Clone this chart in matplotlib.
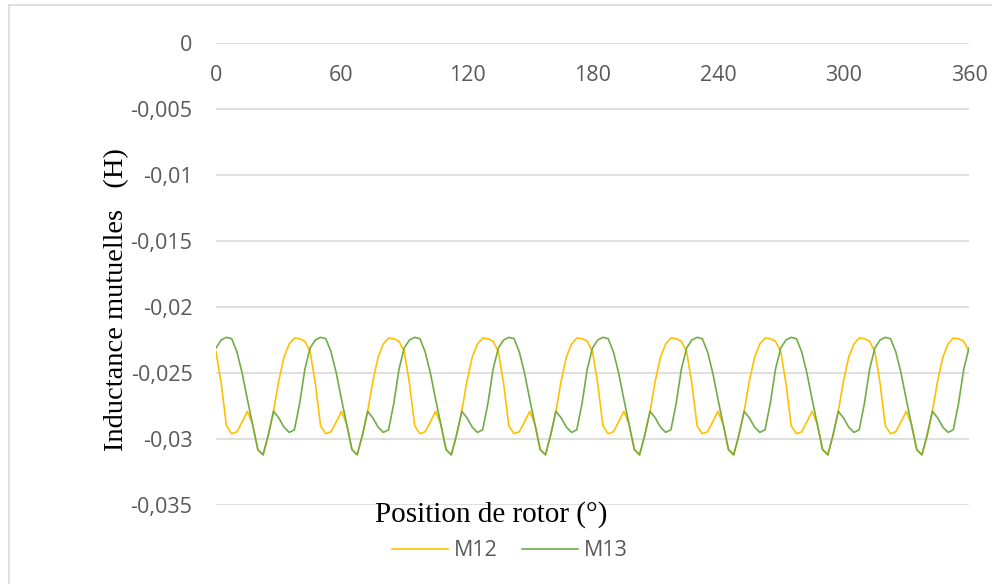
import matplotlib.pyplot as plt
from matplotlib.lines import Line2D

# rotor position (deg), 2.5 deg step
position = [i * 2.5 for i in range(145)]

# one period (45 deg) per row
m12 = [
    -0.02338, -0.0258, -0.0290, -0.0296, -0.02945, -0.0287, -0.0279, -0.0289, -0.0308,
    -0.0312, -0.0297, -0.0279, -0.0256, -0.0238, -0.0228, -0.02235, -0.0224, -0.0226,
    -0.02338, -0.0258, -0.0290, -0.0296, -0.02945, -0.0287, -0.0279, -0.0289, -0.0308,
    -0.0312, -0.0297, -0.0279, -0.0256, -0.0238, -0.0228, -0.02235, -0.0224, -0.0226,
    -0.02338, -0.0258, -0.0290, -0.0296, -0.02945, -0.0287, -0.0279, -0.0289, -0.0308,
    -0.0312, -0.0297, -0.0279, -0.0256, -0.0238, -0.0228, -0.02235, -0.0224, -0.0226,
    -0.02338, -0.0258, -0.0290, -0.0296, -0.02945, -0.0287, -0.0279, -0.0289, -0.0308,
    -0.0312, -0.0297, -0.0279, -0.0256, -0.0238, -0.0228, -0.02235, -0.0224, -0.0226,
    -0.02338, -0.0258, -0.0290, -0.0296, -0.02945, -0.0287, -0.0279, -0.0289, -0.0308,
    -0.0312, -0.0297, -0.0279, -0.0256, -0.0238, -0.0228, -0.02235, -0.0224, -0.0226,
    -0.02338, -0.0258, -0.0290, -0.0296, -0.02945, -0.0287, -0.0279, -0.0289, -0.0308,
    -0.0312, -0.0297, -0.0279, -0.0256, -0.0238, -0.0228, -0.02235, -0.0224, -0.0226,
    -0.02338, -0.0258, -0.0290, -0.0296, -0.02945, -0.0287, -0.0279, -0.0289, -0.0308,
    -0.0312, -0.0297, -0.0279, -0.0256, -0.0238, -0.0228, -0.02235, -0.0224, -0.0226,
    -0.02338, -0.0258, -0.0290, -0.0296, -0.02945, -0.0287, -0.0279, -0.0289, -0.0308,
    -0.0312, -0.0297, -0.0279, -0.0256, -0.0238, -0.0228, -0.02235, -0.0224, -0.0226,
    -0.02338,
]
m13 = [
    -0.0231, -0.0225, -0.0223, -0.0224, -0.0234, -0.0250, -0.0270, -0.0289, -0.0308,
    -0.0312, -0.0297, -0.0279, -0.0284, -0.0291, -0.0295, -0.0293, -0.0273, -0.0247,
    -0.0231, -0.0225, -0.0223, -0.0224, -0.0234, -0.0250, -0.0270, -0.0289, -0.0308,
    -0.0312, -0.0297, -0.0279, -0.0284, -0.0291, -0.0295, -0.0293, -0.0273, -0.0247,
    -0.0231, -0.0225, -0.0223, -0.0224, -0.0234, -0.0250, -0.0270, -0.0289, -0.0308,
    -0.0312, -0.0297, -0.0279, -0.0284, -0.0291, -0.0295, -0.0293, -0.0273, -0.0247,
    -0.0231, -0.0225, -0.0223, -0.0224, -0.0234, -0.0250, -0.0270, -0.0289, -0.0308,
    -0.0312, -0.0297, -0.0279, -0.0284, -0.0291, -0.0295, -0.0293, -0.0273, -0.0247,
    -0.0231, -0.0225, -0.0223, -0.0224, -0.0234, -0.0250, -0.0270, -0.0289, -0.0308,
    -0.0312, -0.0297, -0.0279, -0.0284, -0.0291, -0.0295, -0.0293, -0.0273, -0.0247,
    -0.0231, -0.0225, -0.0223, -0.0224, -0.0234, -0.0250, -0.0270, -0.0289, -0.0308,
    -0.0312, -0.0297, -0.0279, -0.0284, -0.0291, -0.0295, -0.0293, -0.0273, -0.0247,
    -0.0231, -0.0225, -0.0223, -0.0224, -0.0234, -0.0250, -0.0270, -0.0289, -0.0308,
    -0.0312, -0.0297, -0.0279, -0.0284, -0.0291, -0.0295, -0.0293, -0.0273, -0.0247,
    -0.0231, -0.0225, -0.0223, -0.0224, -0.0234, -0.0250, -0.0270, -0.0289, -0.0308,
    -0.0312, -0.0297, -0.0279, -0.0284, -0.0291, -0.0295, -0.0293, -0.0273, -0.0247,
    -0.0231,
]

x_ticks = [0, 60, 120, 180, 240, 300, 360]
y_ticks = [0, -0.005, -0.01, -0.015, -0.02, -0.025, -0.03, -0.035]
y_labels = ["0", "-0,005", "-0,01", "-0,015", "-0,02", "-0,025", "-0,03", "-0,035"]

W, H = 992, 584
fig = plt.figure(figsize=(W / 100, H / 100), dpi=100)
ax = fig.add_axes([216 / W, 1 - 505 / H, (969 - 216) / W, (505 - 43) / H])

tick_font = "Open Sans"
grey = "#595959"

ax.plot(position, m12, color="#FFC000", linewidth=1.2, label="M12")
ax.plot(position, m13, color="#70AD47", linewidth=1.2, label="M13")

ax.set_xlim(0, 360)
ax.set_ylim(-0.035, 0)
ax.set_yticks(y_ticks)
ax.set_yticklabels(y_labels)
ax.set_xticks(x_ticks)
ax.set_xticklabels([str(t) for t in x_ticks])
ax.spines["bottom"].set_position(("data", 0))
for s in ax.spines.values():
    s.set_visible(False)
ax.grid(axis="y", color="#d9d9d9", linewidth=1.2)
ax.set_axisbelow(True)
ax.tick_params(axis="y", length=0, pad=17, labelsize=15.5, labelcolor=grey)
ax.tick_params(axis="x", length=0, pad=16, labelsize=15.5, labelcolor=grey)
for lab in ax.get_xticklabels() + ax.get_yticklabels():
    lab.set_fontfamily(tick_font)

fig.text(117 / W, 1 - 300 / H, "Inductance mutuelles   (H)", rotation=90,
         ha="center", va="center", fontsize=20.5, family="Liberation Serif")
fig.text(491 / W, 1 - 515 / H, "Position de rotor (°)",
         ha="center", va="center", fontsize=21, family="Liberation Serif")

handles = [Line2D([], [], color="#FFC000", linewidth=1.2),
           Line2D([], [], color="#70AD47", linewidth=1.2)]
fig.legend(handles, ["M12", "M13"], loc="center", bbox_to_anchor=(510 / W, 1 - 551 / H),
           ncol=2, frameon=False, handlelength=2.6, columnspacing=1.1, handletextpad=0.3,
           prop={"family": tick_font, "size": 15.5}, labelcolor=grey)

# chart border (top and left edges visible)
fig.add_artist(Line2D([8.5 / W, 8.5 / W], [0, 1 - 5 / H], color="#d9d9d9", linewidth=1.2))
fig.add_artist(Line2D([8.5 / W, 1], [1 - 5 / H, 1 - 5 / H], color="#d9d9d9", linewidth=1.2))

fig.savefig("out.png", dpi=100)
